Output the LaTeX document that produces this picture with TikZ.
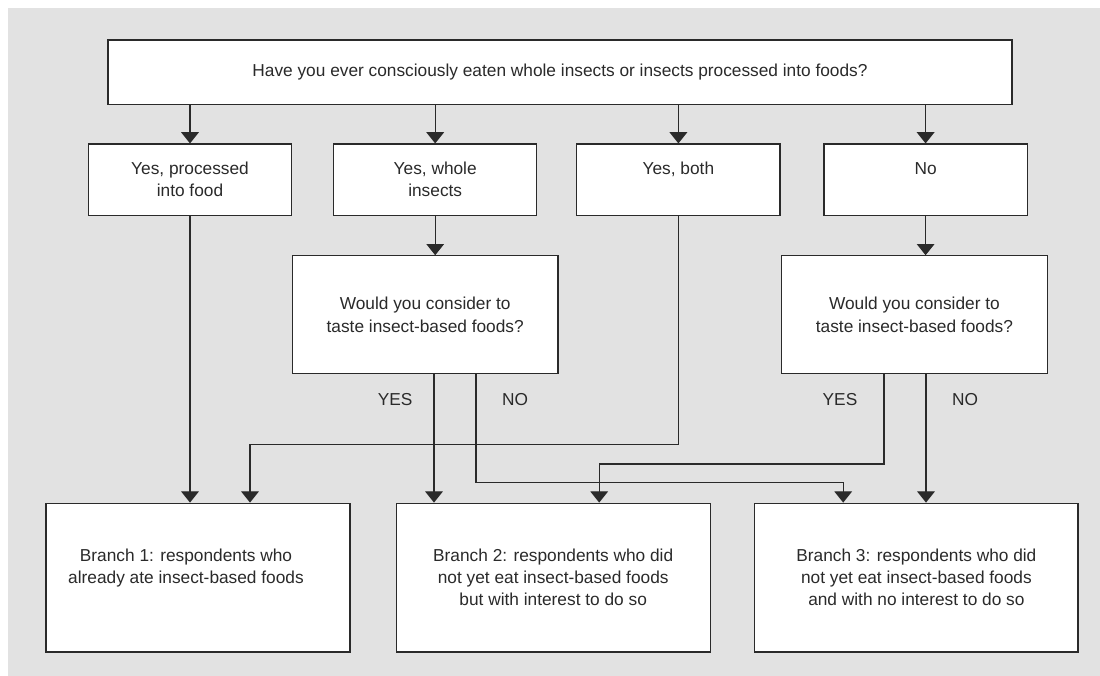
\documentclass[tikz,border=0pt]{standalone}
\usepackage{fontspec}
\setmainfont{Liberation Sans}
\usetikzlibrary{positioning,arrows.meta,calc}
\definecolor{inkdark}{HTML}{2A2A2A}
\definecolor{panelgrey}{HTML}{E2E2E2}
\tikzset{
  fc/.style={draw=inkdark, fill=white, line width=0.8pt, align=center, text=inkdark,
             font=\fontsize{12.3pt}{15.8pt}\selectfont, inner sep=2pt},
  fc top/.style={fc, minimum width=22.6cm, minimum height=1.62cm},
  fc ans/.style={fc, minimum width=5.08cm, minimum height=1.78cm},
  fc ask/.style={fc, minimum width=6.64cm, minimum height=2.95cm},
  fc branch/.style={fc, minimum height=3.72cm},
  fc arr/.style={-{Triangle[width=4.4mm,length=2.8mm]}, line width=0.8pt, inkdark},
  fc lab/.style={font=\fontsize{12.3pt}{15.8pt}\selectfont, text=inkdark, inner sep=1pt},
}
\begin{document}
\begin{tikzpicture}[x=1cm, y=1cm]
  \useasboundingbox (0,0) rectangle (27.5,16.9);
  \fill[panelgrey] (0.2,0) rectangle (27.5,16.7);
  % first question and its four answers
  \node[fc top] (q) at (14.0,15.09) {Have you ever consciously eaten whole insects or insects processed into foods?};
  \node[fc ans] (pf) at (4.75,12.41) {Yes, processed\\into food};
  \node[fc ans] (wi) at (10.88,12.41) {Yes, whole\\insects};
  \node[fc ans] (bo) at (16.96,12.41) {Yes, both\\\mbox{}};
  \node[fc ans] (no) at (23.14,12.41) {No\\\mbox{}};
  \foreach \n in {pf,wi,bo,no} \draw[fc arr] (\n |- q.south) -- (\n.north);
  % follow-up questions
  \node[fc ask] (tw) at (10.63,9.03) {Would you consider to\\taste insect-based foods?};
  \node[fc ask] (tn) at (22.86,9.03) {Would you consider to\\taste insect-based foods?};
  \draw[fc arr] (wi.south) -- (wi.south |- tw.north);
  \draw[fc arr] (no.south) -- (no.south |- tn.north);
  % branches
  \node[fc branch, minimum width=7.6cm] (br1) at (4.95,2.46) {\mbox{Branch 1: respondents who\hspace{6mm}}\\\mbox{already ate insect-based foods\hspace{6mm}}\\\mbox{}};
  \node[fc branch, minimum width=7.85cm] (br2) at (13.83,2.46) {Branch 2: respondents who did\\not yet eat insect-based foods\\but with interest to do so};
  \node[fc branch, minimum width=8.08cm] (br3) at (22.91,2.46) {Branch 3: respondents who did\\not yet eat insect-based foods\\and with no interest to do so};
  % bends of the routed connectors
  \coordinate (jb) at (6.25,5.78);
  \coordinate (jn) at (21.08,4.83);
  \coordinate (jy) at (14.98,5.3);
  \draw[fc arr] (pf.south) -- (pf.south |- br1.north);
  \draw[fc arr] (bo.south) |- (jb) -- (jb |- br1.north);
  \draw[fc arr] ([xshift=2.2mm]tw.south) -- ([xshift=2.2mm]tw.south |- br2.north);
  \draw[fc arr] ([xshift=12.7mm]tw.south) |- (jn) -- (jn |- br3.north);
  \draw[fc arr] ([xshift=-7.6mm]tn.south) |- (jy) -- (jy |- br2.north);
  \draw[fc arr] ([xshift=2.9mm]tn.south) -- ([xshift=2.9mm]tn.south |- br3.north);
  % answer labels
  \node[fc lab] (ywi) at (9.88,6.9) {YES};
  \node[fc lab] (nwi) at (12.88,6.9) {NO};
  \node[fc lab] (yno) at (21.0,6.9) {YES};
  \node[fc lab] (nno) at (24.13,6.9) {NO};
\end{tikzpicture}
\end{document}
